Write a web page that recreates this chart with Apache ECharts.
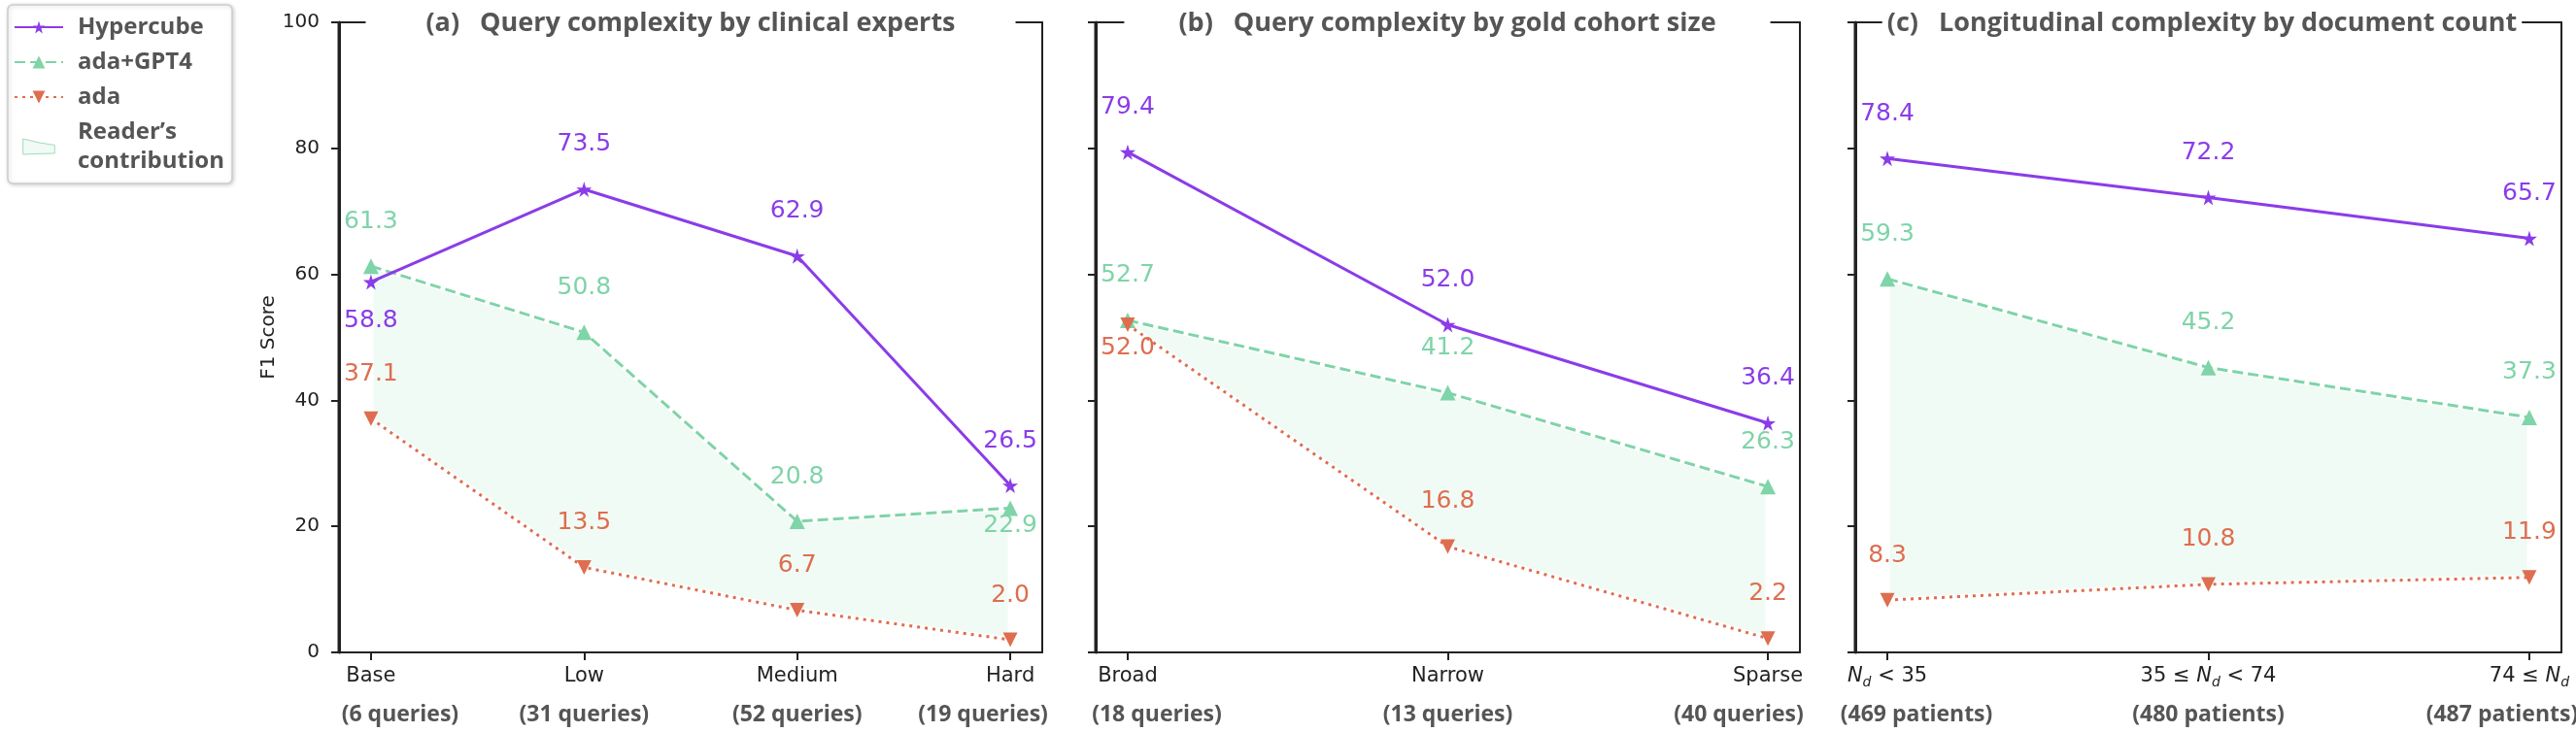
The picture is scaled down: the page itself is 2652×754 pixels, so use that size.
<!DOCTYPE html>
<html><head><meta charset="utf-8">
<script src="https://cdn.jsdelivr.net/npm/echarts@6/dist/echarts.min.js"></script>
<style>html,body{margin:0;padding:0;background:#fff}#c{width:2652px;height:754px}</style>
</head><body><div id="c"></div>
<script>
// ---------- data ----------
const seriesNames = ['Hypercube', 'ada+GPT4', 'ada'];
const bandName = 'Reader\u2019s contribution';
const yTicks = [0, 20, 40, 60, 80, 100];

const catsA = ['Base', 'Low', 'Medium', 'Hard'];
const subsA = ['(6 queries)', '(31 queries)', '(52 queries)', '(19 queries)'];
const hyperA = [58.8, 73.5, 62.9, 26.5];
const gptA = [61.3, 50.8, 20.8, 22.9];
const adaA = [37.1, 13.5, 6.7, 2.0];

const catsB = ['Broad', 'Narrow', 'Sparse'];
const subsB = ['(18 queries)', '(13 queries)', '(40 queries)'];
const hyperB = [79.4, 52.0, 36.4];
const gptB = [52.7, 41.2, 26.3];
const adaB = [52.0, 16.8, 2.2];

const catsCPre = ['', '35 \u2264 ', '74 \u2264 '];
const catsCPost = [' < 35', ' < 74', ''];
const subsC = ['(469 patients)', '(480 patients)', '(487 patients)'];
const hyperC = [78.4, 72.2, 65.7];
const gptC = [59.3, 45.2, 37.3];
const adaC = [8.3, 10.8, 11.9];

const titles = [
  '(a)   Query complexity by clinical experts',
  '(b)   Query complexity by gold cohort size',
  '(c)   Longitudinal complexity by document count'
];

// ---------- layout / style ----------
const colors = ['#8b3ce8', '#7fd4a8', '#de6e4f'];
const fillColor = '#f1fbf5';
const TOP = 23, H = 649;
const STAR = 'path://M50,0 L61,35 L98,35 L68,57 L79,91 L50,70 L21,91 L32,57 L2,35 L39,35 Z';
const TRI_DOWN = 'path://M0,0 L100,0 L50,87 Z';
const UP = -46;
const panels = [
  { left: 349, width: 724, titleX: 711, titlePad: 62,
    cats: catsA, subs: subsA, shifts: [30, 0, 0, -28], data: [hyperA, gptA, adaA],
    dy: [[40, UP, UP, UP], [UP, UP, UP, 18], [UP, UP, UP, UP]] },
  { left: 1128, width: 725, titleX: 1490, titlePad: 56,
    cats: catsB, subs: subsB, shifts: [30, 0, -30], data: [hyperB, gptB, adaB],
    dy: [[UP, UP, UP], [UP, UP, UP], [24, UP, UP]] },
  { left: 1910, width: 727, titleX: 2267, titlePad: 5,
    cats: null, subs: subsC, shifts: [30, 0, -28], data: [hyperC, gptC, adaC],
    dy: [[UP, UP, UP], [UP, UP, UP], [UP, UP, UP]] }
];

const SUBFONT = '"Liberation Sans Narrow", "Open Sans", sans-serif';
const spine = (w) => ({ show: true, onZero: false, lineStyle: { color: '#222', width: w || 2 } });
const NOSPLIT = { splitLine: { show: false }, splitArea: { show: false }, minorSplitLine: { show: false } };

function xLabel(p, j) {
  let first;
  if (p.cats) first = '{a|' + p.cats[j] + '}';
  else {
    first = (catsCPre[j] ? '{a|' + catsCPre[j] + '}' : '') + '{i|N}{s|d}' + (catsCPost[j] ? '{a|' + catsCPost[j] + '}' : '');
  }
  return first + '\n{b' + j + '|' + p.subs[j] + '}';
}
function richFor(p) {
  const r = {
    a: { fontFamily: 'DejaVu Sans', fontSize: 21, color: '#222', lineHeight: 26 },
    i: { fontFamily: 'DejaVu Sans', fontSize: 21, fontStyle: 'italic', color: '#222', lineHeight: 26 },
    s: { fontFamily: 'DejaVu Sans', fontSize: 14, fontStyle: 'italic', color: '#222', lineHeight: 26, verticalAlign: 'bottom' }
  };
  p.shifts.forEach((s, j) => {
    r['b' + j] = { fontFamily: SUBFONT, fontWeight: 'bold', fontSize: 23, color: '#555', lineHeight: 52,
      padding: s >= 0 ? [0, 0, 0, 2 * s] : [0, -2 * s, 0, 0] };
  });
  return r;
}

const grid = [], xAxis = [], yAxis = [], series = [], title = [];
const extents = [];
panels.forEach((p, i) => {
  const n = p.data[0].length;
  const idx = Array.from({ length: n }, (_, j) => j);
  const xmin = -0.05 * (n - 1), xmax = (n - 1) * 1.05;
  extents.push([xmin, xmax]);
  grid.push({ left: p.left, top: TOP, width: p.width, height: H, show: false,
    containLabel: false, outerBoundsMode: 'none' });
  xAxis.push(Object.assign({ type: 'value', gridIndex: i, position: 'bottom', min: xmin, max: xmax, z: 10,
    axisLine: spine(),
    axisTick: { show: true, customValues: idx, length: 8, lineStyle: { color: '#222', width: 2 } },
    axisLabel: { customValues: idx, margin: 12, formatter: v => xLabel(p, Math.round(v)), rich: richFor(p) } }, NOSPLIT));
  xAxis.push(Object.assign({ type: 'value', gridIndex: i, position: 'top', min: xmin, max: xmax, z: 10,
    axisLine: spine(), axisTick: { show: false }, axisLabel: { show: false } }, NOSPLIT));
  const yMain = Object.assign({ type: 'value', gridIndex: i, position: 'left', min: 0, max: 100, interval: 20, z: 10,
    axisLine: spine(3),
    axisTick: { show: true, length: 8, lineStyle: { color: '#222', width: 2 } },
    axisLabel: { show: i === 0, fontFamily: 'DejaVu Sans', fontSize: 20, color: '#222', margin: 20 } }, NOSPLIT);
  if (i === 0) Object.assign(yMain, { name: 'F1 Score', nameLocation: 'middle', nameGap: 52,
    nameTextStyle: { fontFamily: 'DejaVu Sans', fontSize: 20, color: '#222' } });
  yAxis.push(yMain);
  yAxis.push(Object.assign({ type: 'value', gridIndex: i, position: 'right', min: 0, max: 100, interval: 20, z: 10,
    axisLine: spine(), axisTick: { show: false }, axisLabel: { show: false } }, NOSPLIT));
  title.push({ text: titles[i], left: p.titleX - p.titlePad, top: 9, textAlign: 'center', z: 12,
    backgroundColor: '#fff', padding: [2, p.titlePad, 2, p.titlePad],
    textStyle: { fontFamily: SUBFONT, fontWeight: 'bold', fontSize: 27, color: '#555' } });

  const up = p.data[1], lo = p.data[2];
  const yi = 2 * i, xi = 2 * i;
  series.push({ type: 'custom', name: bandName, xAxisIndex: xi, yAxisIndex: yi, data: [0], z: 1, silent: true,
    renderItem: (params, api) => {
      const pts = [];
      up.forEach((v, j) => pts.push(api.coord([j, v])));
      for (let j = lo.length - 1; j >= 0; j--) pts.push(api.coord([j, lo[j]]));
      return { type: 'polygon', shape: { points: pts },
        style: { fill: fillColor, stroke: '#fff', lineWidth: 5 } };
    } });

  const symbols = [STAR, 'triangle', TRI_DOWN];
  const sizes = [16, 16, 15];
  const types = ['solid', [11, 5], [3, 5]];
  const zs = [5, 3, 4];
  seriesNames.forEach((name, k) => {
    series.push({ type: 'line', name, xAxisIndex: xi, yAxisIndex: yi, z: zs[k],
      data: p.data[k].map((v, j) => ({ value: [j, v], label: { offset: [0, p.dy[k][j]] } })),
      symbol: symbols[k], symbolSize: sizes[k], showAllSymbol: true,
      lineStyle: { color: colors[k], width: 3, type: types[k] },
      itemStyle: { color: colors[k] },
      label: { show: true, position: 'inside', color: colors[k], fontFamily: 'DejaVu Sans', fontSize: 25,
        formatter: q => q.value[1].toFixed(1) } });
  });
});

const chart = echarts.init(document.getElementById('c'), null, { renderer: 'canvas' });
chart.setOption({
  animation: false,
  backgroundColor: '#fff',
  title, grid, xAxis, yAxis, series,
  legend: {
    orient: 'vertical', left: 8, top: 5, padding: [8, 8, 8, 6],
    itemWidth: 50, itemHeight: 16, itemGap: 6,
    backgroundColor: '#fff', borderColor: '#ccc', borderWidth: 1.5, borderRadius: 5,
    shadowBlur: 4, shadowColor: 'rgba(0,0,0,0.18)', shadowOffsetX: 1, shadowOffsetY: 1,
    textStyle: { fontFamily: '"Open Sans", sans-serif', fontWeight: 'bold', fontSize: 24, color: '#555', lineHeight: 30, padding: [0, 0, 0, 10] },
    formatter: nm => nm === bandName ? 'Reader\u2019s\ncontribution' : nm,
    data: [
      { name: 'Hypercube' }, { name: 'ada+GPT4' }, { name: 'ada' },
      { name: bandName, icon: 'path://M0,0 L50,12 L100,20 L100,46 L50,47 L0,49 Z',
        itemStyle: { color: fillColor, borderColor: '#9fdcbc', borderWidth: 1 } }
    ]
  }
});

// left frame spines, placed through the library's own scales
const spines = extents.map((ext, i) => {
  let a = chart.convertToPixel({ xAxisIndex: 2 * i, yAxisIndex: 2 * i }, [ext[0], 0]);
  let b = chart.convertToPixel({ xAxisIndex: 2 * i, yAxisIndex: 2 * i }, [ext[0], 100]);
  if (!a || !isFinite(a[0]) || !b || !isFinite(b[1])) {
    a = [panels[i].left, TOP + H]; b = [panels[i].left, TOP];
  }
  const x = Math.round(a[0]);
  return { type: 'line', z: 100, silent: true,
    shape: { x1: x, y1: a[1] + 1, x2: x, y2: b[1] - 1 },
    style: { stroke: '#222', lineWidth: 3 } };
});
chart.setOption({ graphic: { elements: spines } });
</script></body></html>
